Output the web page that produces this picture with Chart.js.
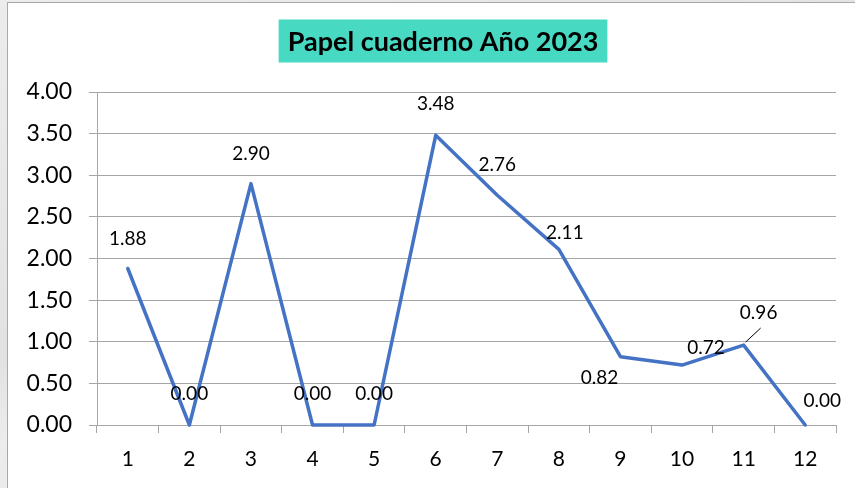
<!DOCTYPE html>
<html>
<head>
<meta charset="utf-8">
<title>Papel cuaderno Año 2023</title>
<script src="https://cdn.jsdelivr.net/npm/chart.js@4/dist/chart.umd.min.js"></script>
<style>
  html, body { margin: 0; padding: 0; }
  body {
    width: 855px; height: 488px; overflow: hidden;
    background: linear-gradient(160deg, #ececec 0%, #e2e2e2 45%, #ececec 55%, #e6e6e6 100%);
    position: relative;
  }
  #frame {
    position: absolute; left: 7px; top: 2px;
    width: 848px; height: 486px;
    background: #ffffff;
    border-left: 1px solid #a9a9a9;
    border-top: 1px solid #a9a9a9;
    box-sizing: border-box;
  }
  #chart { position: absolute; left: 0; top: 0; }
</style>
</head>
<body>
<div id="frame"><canvas id="chart" width="847" height="485"></canvas></div>
<script>
// Monthly values
const months = ['1', '2', '3', '4', '5', '6', '7', '8', '9', '10', '11', '12'];
const values = [1.88, 0.00, 2.90, 0.00, 0.00, 3.48, 2.76, 2.11, 0.82, 0.72, 0.96, 0.00];
const yTicks = [0, 0.5, 1, 1.5, 2, 2.5, 3, 3.5, 4];
const chartTitle = 'Papel cuaderno Año 2023';

// Where each value label sits relative to its point (dx, dy in px)
const labelOffsets = [
  [0, -30], [0, -31], [0, -30], [0, -31], [0, -31], [0, -31],
  [0, -30], [6, -16], [-21, 21], [24, -17], [15, -32], [17, -24]
];
// Leader line for labels moved away from their point
const leaderLines = { 10: [[2, -3], [17, -17]] };

const FONT = 'Lato, "Open Sans", sans-serif';
const GRID = '#a6a6a6';

const titleBox = {
  id: 'titleBox',
  afterDraw(chart) {
    const ctx = chart.ctx;
    ctx.save();
    ctx.font = 'bold 27px ' + FONT;
    const w = ctx.measureText(chartTitle).width;
    const cx = 435, cy = 38;
    const bw = w + 18, bh = 43;
    ctx.fillStyle = '#48d9c3';
    ctx.fillRect(cx - bw / 2, cy - bh / 2, bw, bh);
    ctx.fillStyle = '#000000';
    ctx.textAlign = 'center';
    ctx.textBaseline = 'middle';
    ctx.fillText(chartTitle, cx, cy + 1);
    ctx.restore();
  }
};

const valueLabels = {
  id: 'valueLabels',
  afterDatasetsDraw(chart) {
    const ctx = chart.ctx;
    const meta = chart.getDatasetMeta(0);
    ctx.save();
    ctx.font = '19px ' + FONT;
    ctx.fillStyle = '#000000';
    ctx.textAlign = 'center';
    ctx.textBaseline = 'middle';
    meta.data.forEach((pt, i) => {
      const [dx, dy] = labelOffsets[i];
      ctx.fillText(values[i].toFixed(2), pt.x + dx, pt.y + dy);
      const ll = leaderLines[i];
      if (ll) {
        ctx.strokeStyle = '#000000';
        ctx.lineWidth = 1;
        ctx.beginPath();
        ctx.moveTo(pt.x + ll[0][0], pt.y + ll[0][1]);
        ctx.lineTo(pt.x + ll[1][0], pt.y + ll[1][1]);
        ctx.stroke();
      }
    });
    ctx.restore();
  }
};

new Chart(document.getElementById('chart'), {
  type: 'line',
  data: {
    labels: months,
    datasets: [{
      data: values,
      borderColor: '#4472c4',
      borderWidth: 3.5,
      tension: 0,
      pointRadius: 0,
      pointHoverRadius: 0,
      borderCapStyle: 'round',
      borderJoinStyle: 'round',
      clip: false
    }]
  },
  options: {
    responsive: false,
    animation: false,
    events: [],
    layout: { padding: { top: 89, right: 19, bottom: 0, left: 0 } },
    plugins: {
      legend: { display: false },
      title: { display: false },
      tooltip: { enabled: false }
    },
    scales: {
      x: {
        type: 'category',
        offset: true,
        grid: {
          offset: true,
          drawOnChartArea: false,
          drawTicks: true,
          tickLength: 8,
          color: GRID
        },
        border: { display: true, color: GRID, width: 1 },
        ticks: {
          color: '#000000',
          font: { family: FONT, size: 21 },
          padding: 14,
          maxRotation: 0
        },
        afterFit(scale) { scale.height = 63; }
      },
      y: {
        min: 0,
        max: 4,
        afterBuildTicks(scale) { scale.ticks = yTicks.map(v => ({ value: v })); },
        grid: {
          color: GRID,
          lineWidth: 1,
          drawTicks: true,
          tickLength: 8
        },
        border: { display: true, color: GRID, width: 1 },
        ticks: {
          color: '#000000',
          font: { family: FONT, size: 23 },
          padding: 17,
          callback: v => Number(v).toFixed(2)
        },
        afterFit(scale) { scale.width = 89; }
      }
    }
  },
  plugins: [titleBox, valueLabels]
});
</script>
</body>
</html>
